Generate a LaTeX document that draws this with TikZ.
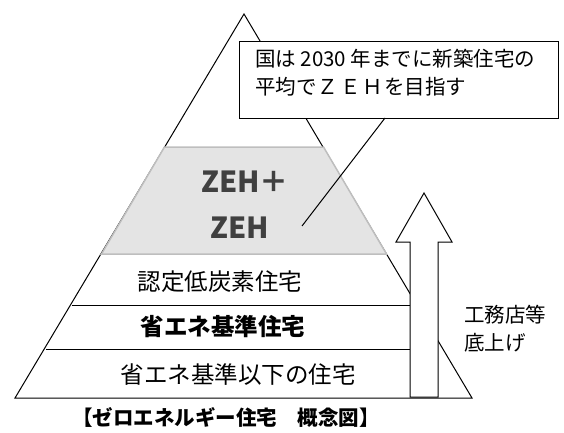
\documentclass[tikz,border=0pt]{standalone}
\usepackage{fontspec}
\newfontfamily\jp{Noto Sans CJK JP}
\definecolor{zehfill}{HTML}{E4E4E4}
\definecolor{zehedge}{HTML}{BEBEBE}
\definecolor{zehtext}{HTML}{404040}
\begin{document}
\begin{tikzpicture}[x=1pt,y=-1pt,
  outline/.style={draw=black,line width=1pt},
  layertext/.style={font=\jp\fontsize{23.5}{26}\selectfont,inner sep=0pt,anchor=center},
  zehlabel/.style={font=\jp\bfseries\fontsize{29}{32}\selectfont,text=zehtext,inner sep=0pt,anchor=center},
  sidetext/.style={font=\jp\fontsize{20.5}{22}\selectfont,inner sep=0pt,anchor=west},
  calloutbox/.style={draw=black,line width=1pt,fill=white,minimum width=319pt,minimum height=76pt,inner sep=0pt},
  calloutline/.style={draw=black,line width=1pt}]
\useasboundingbox (0,0) rectangle (564,433);
% pyramid
\coordinate (apex) at (244,14);
\coordinate (bl) at (15,398);
\coordinate (br) at (472,398);
\draw[outline] (bl) -- (apex) -- (br) -- cycle;
% gray band (ZEH)
\filldraw[fill=zehfill,draw=zehedge,line width=1.5pt] (164.5,147) -- (323.5,147) -- (386.5,254) -- (101.5,254) -- cycle;
% separator lines
\draw[outline] (72,305) -- (424,305);
\draw[outline] (46,349) -- (424,349);
% layer labels
\node[layertext] (l1) at (220,282) {認定低炭素住宅};
\node[layertext,font=\jp\bfseries\fontsize{23.5}{26}\selectfont] (l2) at (223,327) {省エネ基準住宅};
\node[layertext] (l3) at (238,375) {省エネ基準以下の住宅};
\node[zehlabel] (zp) at (245,182) {ZEH＋};
\node[zehlabel] (z) at (240,228) {ZEH};
% arrow
\draw[outline,fill=white,line join=miter] (410,397) -- (410,242) -- (396,242) -- (424,193) -- (452,242) -- (438,242) -- (438,397) -- cycle;
\node[sidetext] (s1) at (464,315) {工務店等};
\node[sidetext] (s2) at (464,343) {底上げ};
% callout
\node[calloutbox] (box) at (398.5,80) {};
\node[font=\jp\fontsize{20.5}{28}\selectfont,anchor=north west,inner sep=0pt,align=left] (ctext) at (255,49) {国は 2030 年までに新築住宅の\\平均で\hspace{1pt}Ｚ\hspace{2pt}Ｅ\hspace{2pt}Ｈ\hspace{1pt}を目指す};
\coordinate (cstart) at (385,118);
\coordinate (cend) at (302,226);
\draw[calloutline] (cstart) -- (cend);
% title
\node[font=\jp\bfseries\fontsize{20.5}{24}\selectfont,inner sep=0pt] (title) at (226,417) {【ゼロエネルギー住宅　概念図】};
\end{tikzpicture}
\end{document}
